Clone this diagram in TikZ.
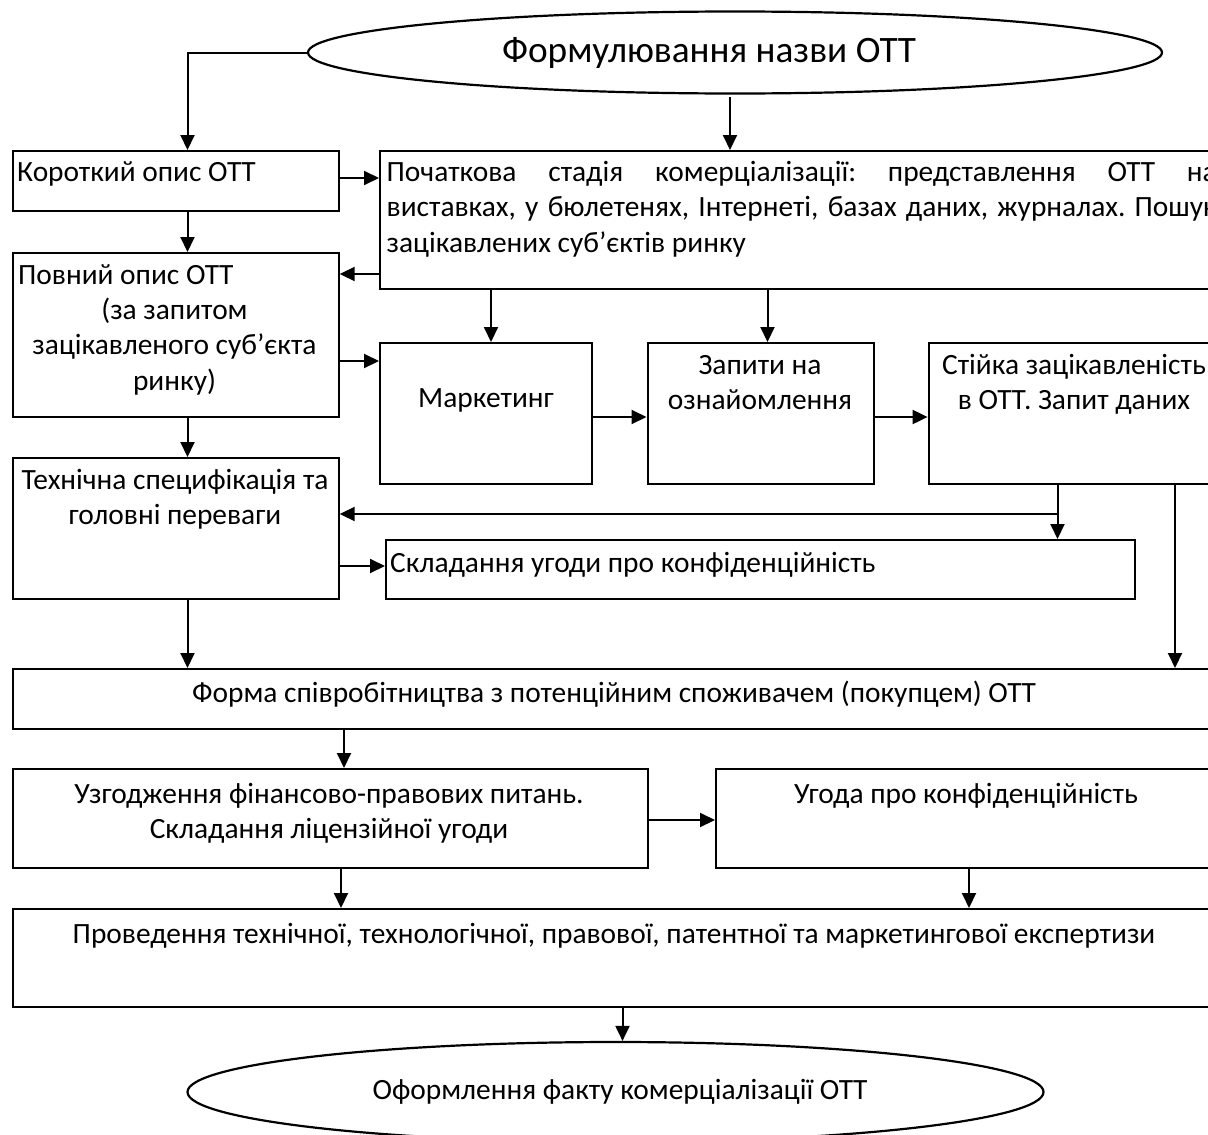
\documentclass[tikz,border=0pt]{standalone}
\usepackage{fontspec}
\setmainfont{Carlito}
\usetikzlibrary{arrows.meta,shapes.geometric}
\frenchspacing
\tikzset{
 bx/.style={draw, line width=2.2pt, rectangle, anchor=north west, inner sep=0pt},
 ell/.style={draw, line width=2.2pt, ellipse, inner sep=0pt},
 ar/.style={line width=2pt, -{Triangle[length=15pt,width=14pt]}},
 tx/.style={inner sep=0pt, font=\fontsize{29.4}{35.5}\selectfont},
 ttl/.style={inner sep=0pt, font=\fontsize{37.3}{43}\selectfont},
}
\begin{document}
\begin{tikzpicture}[x=1pt,y=-1pt]
\useasboundingbox (0,0) rectangle (1208,1135);
% shapes
\node[ell, minimum width=854pt, minimum height=82pt] (title) at (735,52.5) {};
\node[bx, minimum width=326pt, minimum height=60pt] (kor) at (11.5,150) {};
\node[bx, minimum width=843pt, minimum height=138pt] (poch) at (379,150) {};
\node[bx, minimum width=326pt, minimum height=164pt] (pov) at (11.5,252) {};
\node[bx, minimum width=212pt, minimum height=141pt] (mark) at (379,342) {};
\node[bx, minimum width=226.5pt, minimum height=141pt] (zap) at (646.5,342) {};
\node[bx, minimum width=292.4pt, minimum height=141pt] (stiy) at (927.6,342) {};
\node[bx, minimum width=326pt, minimum height=141pt] (tech) at (11.5,457) {};
\node[bx, minimum width=749pt, minimum height=59pt] (sklad) at (385,539) {};
\node[bx, minimum width=1204.5pt, minimum height=60pt] (forma) at (11.5,668) {};
\node[bx, minimum width=635.5pt, minimum height=99pt] (uzg) at (11.5,768) {};
\node[bx, minimum width=502pt, minimum height=99pt] (ugoda) at (715,768) {};
\node[bx, minimum width=1204.5pt, minimum height=98pt] (prov) at (11.5,908) {};
\node[ell, minimum width=856pt, minimum height=100pt] (ofor) at (615.5,1092) {};
% texts
\node[ttl, anchor=base] (titleT) at (709,62) {Формулювання назви ОТТ};
\node[tx, anchor=base west] (korT) at (17,181) {Короткий опис ОТТ};
\node[tx, anchor=north west, text width=830pt, align=justify] (pochT) at (386.5,156.15)
 {\strut Початкова стадія комерціалізації: представлення ОТТ на\linebreak виставках, у бюлетенях, Інтернеті, базах даних, журналах. Пошук\linebreak зацікавлених суб’єктів ринку};
\node[tx, anchor=base west] (povT1) at (18,284) {Повний опис ОТТ};
\node[tx, anchor=north, align=center] (povT2) at (174.5,294.15) {\strut (за запитом\\зацікавленого суб’єкта\\ринку)};
\node[tx, anchor=base] (markT) at (486,407) {Маркетинг};
\node[tx, anchor=north, align=center] (zapT) at (760,349.15) {\strut Запити на\\ознайомлення};
\node[tx, anchor=north, align=center] (stiyT) at (1074,349.15) {\strut Стійка зацікавленість\\в ОТТ. Запит даних};
\node[tx, anchor=north, align=center] (techT) at (175,464.15) {\strut Технічна специфікація та\\головні переваги};
\node[tx, anchor=base west] (skladT) at (390,572) {Складання угоди про конфіденційність};
\node[tx, anchor=base] (formaT) at (614,702) {Форма співробітництва з потенційним споживачем (покупцем) ОТТ};
\node[tx, anchor=north, align=center] (uzgT) at (329,778.15) {\strut Узгодження фінансово-правових питань.\\Складання ліцензійної угоди};
\node[tx, anchor=base] (ugodaT) at (966,803) {Угода про конфіденційність};
\node[tx, anchor=base] (provT) at (614,943) {Проведення технічної, технологічної, правової, патентної та маркетингової експертизи};
\node[tx, anchor=base] (oforT) at (620,1099) {Оформлення факту комерціалізації ОТТ};
% helper coordinates
\coordinate (xL) at (187.5,0);
\coordinate (t1) at (730,97);
\coordinate (y178) at (0,178);
\coordinate (y274) at (0,274);
\coordinate (y361) at (0,361);
\coordinate (x491) at (491,0);
\coordinate (x767) at (767.5,0);
\coordinate (y417) at (0,417);
\coordinate (x1057) at (1057.5,0);
\coordinate (br) at (1057.5,514);
\coordinate (y566) at (0,566);
\coordinate (x1175) at (1175,0);
\coordinate (x344) at (344,0);
\coordinate (y820) at (0,820);
\coordinate (x341) at (341,0);
\coordinate (x969) at (969,0);
\coordinate (x622) at (622.5,0);
% connectors
\draw[ar] (title.west) -| (xL |- kor.north);
\draw[ar] (kor.south -| xL) -- (xL |- pov.north);
\draw[ar] (pov.south -| xL) -- (xL |- tech.north);
\draw[ar] (tech.south -| xL) -- (xL |- forma.north);
\draw[ar] (t1) -- (t1 |- poch.north);
\draw[ar] (kor.east |- y178) -- (poch.west |- y178);
\draw[ar] (poch.west |- y274) -- (pov.east |- y274);
\draw[ar] (pov.east |- y361) -- (mark.west |- y361);
\draw[ar] (poch.south -| x491) -- (x491 |- mark.north);
\draw[ar] (poch.south -| x767) -- (x767 |- zap.north);
\draw[ar] (mark.east |- y417) -- (zap.west |- y417);
\draw[ar] (zap.east |- y417) -- (stiy.west |- y417);
\draw[ar] (stiy.south -| x1057) -- (x1057 |- sklad.north);
\draw[ar] (br) -- (br -| tech.east);
\draw[ar] (tech.east |- y566) -- (sklad.west |- y566);
\draw[ar] (stiy.south -| x1175) -- (x1175 |- forma.north);
\draw[ar] (forma.south -| x344) -- (x344 |- uzg.north);
\draw[ar] (uzg.east |- y820) -- (ugoda.west |- y820);
\draw[ar] (uzg.south -| x341) -- (x341 |- prov.north);
\draw[ar] (ugoda.south -| x969) -- (x969 |- prov.north);
\draw[ar] (prov.south -| x622) -- (x622 |- ofor.north);
\end{tikzpicture}
\end{document}
